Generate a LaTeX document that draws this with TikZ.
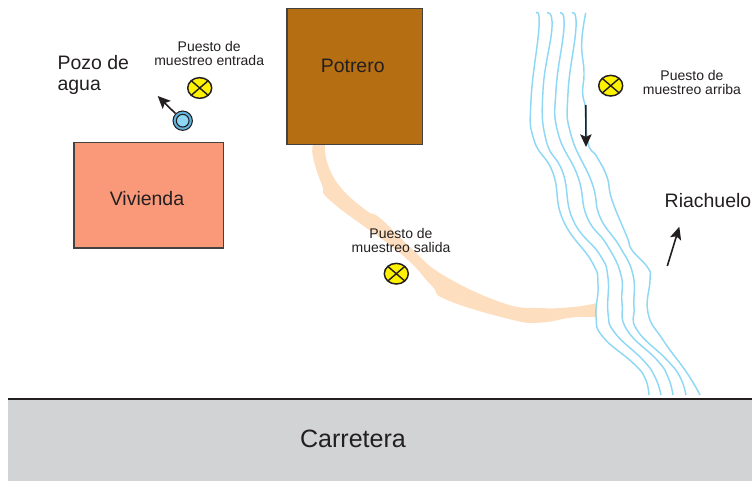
\documentclass[tikz,border=0pt]{standalone}
\usepackage{fontspec}
\setmainfont{Liberation Sans}
\usetikzlibrary{shapes.geometric,arrows.meta}
\definecolor{inktext}{HTML}{231F20}
\definecolor{riverblue}{HTML}{8FD8F5}
\definecolor{wellrim}{HTML}{62B2DE}
\definecolor{ditchc}{HTML}{FDDFC0}
\definecolor{potreroc}{HTML}{B66E13}
\definecolor{viviendac}{HTML}{F9997A}
\definecolor{roadc}{HTML}{D1D3D4}
\definecolor{markerc}{HTML}{FFF200}
\tikzset{
  x=0.75pt,y=-0.75pt,
  river/.style={draw=riverblue,line width=1.1pt,smooth,tension=0.8},
  smalltext/.style={text=inktext,font=\fontsize{10.5}{10.5}\selectfont,align=center,inner sep=0pt},
  bigtext/.style={text=inktext,font=\fontsize{14.6}{15.75}\selectfont,inner sep=0pt},
  blockbox/.style={draw=inktext!85!white,line width=1.1pt,anchor=north west,inner sep=0pt},
  markerdot/.style={ellipse,draw=inktext,fill=markerc,line width=1.1pt,minimum width=18pt,minimum height=15.5pt,inner sep=0pt,
    path picture={\draw[inktext,line width=1.05pt]
      (path picture bounding box.north west)--(path picture bounding box.south east)
      (path picture bounding box.north east)--(path picture bounding box.south west);}},
  pointer/.style={draw=inktext,line width=1.2pt,-{Stealth[length=9.5pt,width=8.5pt,inset=2pt]}},
}
\begin{document}
\begin{tikzpicture}
\useasboundingbox (0,0) rectangle (752,481);
% road
\fill[roadc] (8,399) rectangle (752,481);
\draw[inktext,line width=1.5pt] (8,399) -- (752,399);
\node[text=inktext,font=\fontsize{18.8}{20}\selectfont,inner sep=0pt] (road) at (353,439) {Carretera};
% ditch
\fill[ditchc] plot[smooth,tension=0.75] coordinates {(325,145) (328,165) (342,189) (367,211) (380,218) (410,247) (443,275) (503,303) (540,308) (573,307) (597,303)}
  -- plot[smooth,tension=0.75] coordinates {(597,317) (572,317.5) (542,322.5) (513,320) (447,300) (431,285) (400,253) (333,203) (322,185) (313,157) (313,145)} -- cycle;
% river
\draw[river] plot coordinates {(536,13) (539,27) (531,100) (534,140) (553,173) (563,220) (592,262) (598,285) (596,317) (603,337) (633,363) (645,378) (649,395)};
\draw[river] plot coordinates {(547,13) (552,27) (543,90) (546,140) (563,173) (573,220) (600,255) (608,278) (608,313) (615,333) (643,360) (655,377) (661,395)};
\draw[river] plot coordinates {(560,13) (564,27) (556,90) (558,133) (578,177) (587,217) (607,245) (621,275) (622,303) (627,330) (657,360) (668,377) (673,395)};
\draw[river] plot coordinates {(572,13) (576,27) (568,93) (571,135) (592,183) (600,217) (620,247) (633,275) (634,307) (637,330) (667,360) (680,377) (686,395)};
\draw[river] plot coordinates {(585.7,13) (581.7,43) (584,72) (582.7,93) (585.7,110) (588,143) (597,157) (607,177) (612,200) (627,237) (632,250) (648,268) (650,280) (648,313) (663,340) (687,373) (700,395)};
% blocks
\node[blockbox,fill=potreroc,minimum width=101.6pt,minimum height=102pt] (potrero) at (286.3,8) {};
\node[bigtext] (potrerolabel) at (352.7,66) {Potrero};
\node[blockbox,fill=viviendac,minimum width=112pt,minimum height=79pt] (vivienda) at (73.3,142) {};
\node[bigtext] (viviendalabel) at (147,199) {Vivienda};
% well
\node[circle,draw=inktext,fill=wellrim,line width=0.8pt,minimum size=14.5pt,inner sep=0pt] (wellouter) at (182.7,120.7) {};
\node[circle,draw=inktext,fill=riverblue,line width=0.8pt,minimum size=9.5pt,inner sep=0pt] (wellinner) at (182.7,120.7) {};
\coordinate (welltip) at (157.7,96);
\draw[pointer] (wellouter) -- (welltip);
\node[bigtext,align=left,anchor=west] (pozo) at (57.3,74.5) {Pozo de\\agua};
% markers
\node[markerdot] (m1) at (199.7,88) {};
\node[markerdot] (m2) at (610.7,85.7) {};
\node[markerdot] (m3) at (396.3,273.7) {};
\node[smalltext] (l1) at (209.2,53.5) {Puesto de\\muestreo entrada};
\node[smalltext] (l2) at (692,82.5) {Puesto de\\muestreo arriba};
\node[smalltext] (l3) at (401,240.5) {Puesto de\\muestreo salida};
% arrows
\coordinate (a1) at (585.7,105);
\coordinate (a2) at (586,147);
\draw[pointer] (a1) -- (a2);
\node[bigtext] (riach) at (708,201) {Riachuelo};
\coordinate (b1) at (667.3,266);
\coordinate (b2) at (679.3,226.7);
\draw[pointer] (b1) -- (b2);
\end{tikzpicture}
\end{document}
